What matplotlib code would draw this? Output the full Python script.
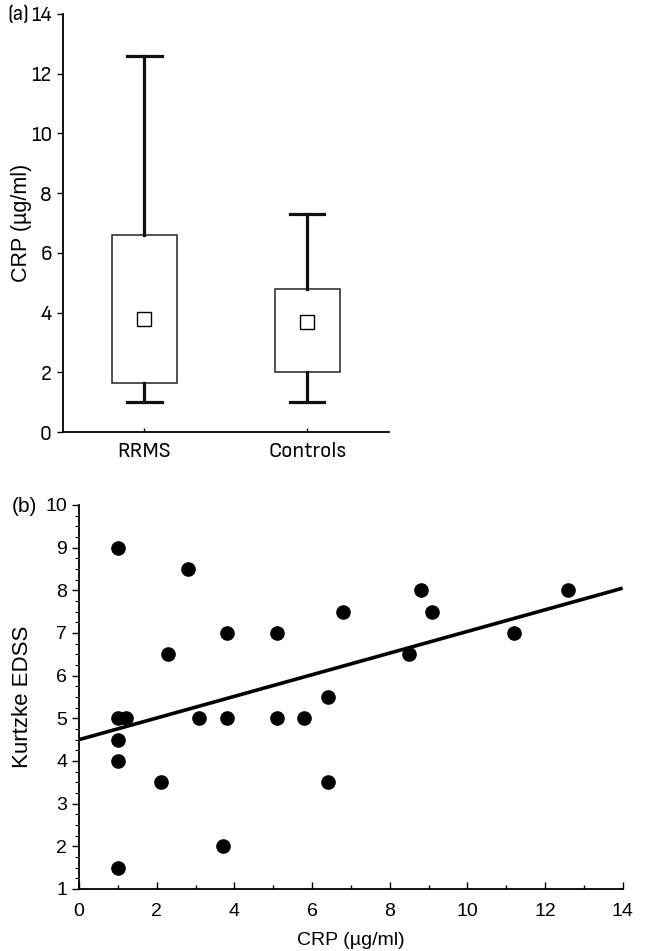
import matplotlib
matplotlib.use("Agg")
import matplotlib.pyplot as plt
from matplotlib.ticker import MultipleLocator
from matplotlib import font_manager
from matplotlib.font_manager import FontProperties

# find a condensed / narrow sans face if one is installed
narrow_path = None
for f in font_manager.fontManager.ttflist:
    nm = f.name.lower()
    st = str(f.stretch).lower()
    if ('narrow' in nm or 'condensed' in nm or 'condensed' in st) and str(f.weight) in ('400', 'normal', 'regular') and f.style == 'normal':
        if 'semi' in nm or 'semi' in st or narrow_path is None:
            narrow_path = f.fname
REG = 'Liberation Sans'


def nprop(size):
    if narrow_path:
        return FontProperties(fname=narrow_path, size=size)
    return FontProperties(family=REG, size=size)

# ---- data: panel (a) ----
groups = ["RRMS", "Controls"]
whisker_low = [1.0, 1.0]
box_low = [1.65, 2.0]
box_high = [6.6, 4.8]
whisker_high = [12.6, 7.3]
centre = [3.8, 3.7]

# ---- data: panel (b) ----
crp = [1.0, 2.8, 6.8, 3.8, 5.1, 2.3, 6.4, 1.0, 1.2, 3.1, 3.8, 5.1, 5.8,
       1.0, 1.0, 2.1, 6.4, 3.7, 1.0, 8.8, 12.6, 9.1, 8.5, 11.2]
edss = [9.0, 8.5, 7.5, 7.0, 7.0, 6.5, 5.5, 5.0, 5.0, 5.0, 5.0, 5.0, 5.0,
        4.5, 4.0, 3.5, 3.5, 2.0, 1.5, 8.0, 8.0, 7.5, 6.5, 7.0]
fit_intercept = 4.5
fit_slope = 0.2536
fit_x = [0, 14]

fig = plt.figure(figsize=(6.47, 9.51), dpi=100)

# ---------------- panel (a) ----------------
axa = fig.add_axes([0.0974, 0.5457, 0.5036, 0.4396])
stats = []
for i, g in enumerate(groups):
    stats.append(dict(label=g, whislo=whisker_low[i], q1=box_low[i], med=centre[i],
                      q3=box_high[i], whishi=whisker_high[i], mean=centre[i], fliers=[]))
axa.bxp(stats, positions=[1, 2], widths=0.4, capwidths=0.21, showmeans=True,
        patch_artist=True,
        boxprops=dict(facecolor='white', edgecolor='#222222', linewidth=1.1),
        whiskerprops=dict(color='#111111', linewidth=2.3),
        capprops=dict(color='#111111', linewidth=2.3),
        medianprops=dict(visible=False),
        meanprops=dict(marker='s', markersize=10, markerfacecolor='white',
                       markeredgecolor='black', markeredgewidth=1.0))
axa.set_xlim(0.5, 2.5)
axa.set_ylim(0, 14)
axa.set_yticks(range(0, 15, 2))
axa.spines['top'].set_visible(False)
axa.spines['right'].set_visible(False)
for s in ('left', 'bottom'):
    axa.spines[s].set_linewidth(1.3)
axa.tick_params(axis='y', direction='out', length=4, width=1.0, pad=4)
axa.tick_params(axis='x', direction='in', length=3, width=1.0, pad=7)
for lab in axa.get_yticklabels():
    lab.set_fontproperties(nprop(15.5))
for lab in axa.get_xticklabels():
    lab.set_fontproperties(nprop(16))
axa.set_ylabel("CRP (µg/ml)", fontsize=15.5, family=REG)
axa.yaxis.set_label_coords(-0.095, 0.5)
fig.text(0.012, 0.985, "(a)", fontproperties=nprop(16), va='center', ha='left')

# ---------------- panel (b) ----------------
axb = fig.add_axes([0.1221, 0.0652, 0.8403, 0.4038])
axb.plot(crp, edss, 'o', color='black', markersize=9.5, zorder=3, clip_on=False)
fx = fit_x
fy = [fit_intercept + fit_slope * v for v in fx]
axb.plot(fx, fy, color='black', linewidth=2.6, solid_capstyle='butt')
axb.set_xlim(0, 14)
axb.set_ylim(1, 10)
axb.set_xticks(range(0, 15, 2))
axb.set_yticks(range(1, 11))
axb.xaxis.set_minor_locator(MultipleLocator(1))
axb.yaxis.set_minor_locator(MultipleLocator(0.25))
axb.spines['top'].set_visible(False)
axb.spines['right'].set_visible(False)
for s in ('left', 'bottom'):
    axb.spines[s].set_linewidth(1.3)
axb.tick_params(axis='x', which='major', direction='in', length=5, width=1.0, labelsize=14, pad=10)
axb.tick_params(axis='x', which='minor', direction='in', length=3, width=1.0)
axb.tick_params(axis='y', which='major', direction='out', length=5, width=1.0, labelsize=14)
axb.tick_params(axis='y', which='minor', direction='out', length=3, width=0.8)
for lab in axb.get_xticklabels() + axb.get_yticklabels():
    lab.set_fontfamily(REG)
axb.set_xlabel("CRP (µg/ml)", fontsize=14, family=REG, labelpad=9)
axb.set_ylabel("Kurtzke EDSS", fontsize=16, family=REG)
axb.yaxis.set_label_coords(-0.0846, 0.5)
fig.text(0.018, 0.467, "(b)", fontsize=15, family=REG, va='center', ha='left')

fig.savefig("out.png", dpi=100)
